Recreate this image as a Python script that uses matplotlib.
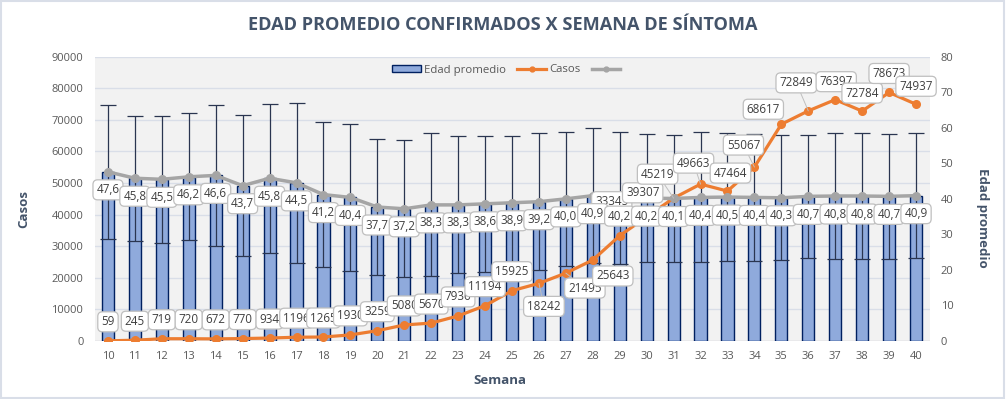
import matplotlib
matplotlib.use("Agg")
import matplotlib.pyplot as plt
from matplotlib.patches import Rectangle, Patch
from matplotlib.lines import Line2D
import numpy as np

plt.rcParams['font.family'] = ['Open Sans', 'DejaVu Sans']

semanas = list(range(10, 41))
edad_promedio = [47.6, 45.8, 45.5, 46.2, 46.6, 43.7, 45.8, 44.5, 41.2, 40.4,
                 37.7, 37.2, 38.3, 38.3, 38.6, 38.9, 39.2, 40.0, 40.9, 40.2,
                 40.2, 40.1, 40.4, 40.5, 40.4, 40.3, 40.7, 40.8, 40.8, 40.7, 40.9]
edad_desv = [18.8, 17.6, 17.9, 17.9, 19.8, 19.8, 20.9, 22.6, 20.4, 20.7,
             19.2, 19.3, 20.1, 19.3, 19.1, 18.7, 19.2, 18.8, 19.0, 18.6,
             18.1, 18.0, 18.3, 18.0, 17.9, 17.6, 17.4, 17.6, 17.7, 17.6, 17.6]
casos = [59, 245, 719, 720, 672, 770, 934, 1196, 1265, 1930,
         3259, 5080, 5670, 7936, 11194, 15925, 18242, 21495, 25643, 33345,
         39307, 45219, 49663, 47464, 55067, 68617, 72849, 76397, 72784, 78673, 74937]

# label offsets (pixels) for the Casos data labels (style only)
casos_lbl_dx = [0]*16 + [5, 19, 20, -8, -4, -16, -7, 3, -11, -18, -12, 1, 0, 0, 0]
casos_lbl_dy = [19]*16 + [-23, -15, -16, 34, 24, 24, 21, 18, 22, 15, 28, 18, 18, 19, 18]
casos_leader = [False]*16 + [True, True, False, False, False, True, True, False, True, False, True, False, False, False, False]

W, H = 1006, 399
fig = plt.figure(figsize=(W/100, H/100), dpi=100)
fig.patch.set_facecolor('white')

left, right = 94.5/W, 929.5/W
bottom, top = 1-341/H, 1-56.7/H
ax = fig.add_axes([left, bottom, right-left, top-bottom])
ax2 = ax.twinx()

ax.set_facecolor('#f2f2f2')
ax.set_ylim(0, 90000)
ax.set_yticks(np.arange(0, 90001, 10000))
ax.set_xlim(semanas[0]-0.5, semanas[-1]+0.5)
ax.set_xticks(semanas)
ax.grid(axis='y', color='#d9dee8', linewidth=1.0)
ax.set_axisbelow(True)
ax2.set_ylim(0, 80)
ax2.set_yticks(np.arange(0, 81, 10))

for a in (ax, ax2):
    for s in a.spines.values():
        s.set_visible(False)
    a.tick_params(length=0, labelsize=8, labelcolor='#595959')
ax.tick_params(axis='y', pad=8)
ax.tick_params(axis='x', pad=7)
ax2.tick_params(axis='y', pad=8)
ax.axhline(0, color='#d9d9d9', linewidth=1, zorder=1)

# bars (age, right axis)
ax2.bar(semanas, edad_promedio, width=0.45, color='#8faadc', edgecolor='#002060',
        linewidth=1.0, zorder=2)
ax2.errorbar(semanas, edad_promedio, yerr=edad_desv, fmt='none', ecolor='#2a3550',
             elinewidth=0.9, capsize=5.5, capthick=0.9, zorder=2.5)

# Casos line (left axis scale, drawn on ax2 layer)
ax2.plot(semanas, casos, transform=ax.transData, color='#ed7d31', linewidth=2.3,
         marker='o', markersize=5.5, zorder=3)
ax2.set_ylim(0, 80)
# age line
ax2.plot(semanas, edad_promedio, color='#a5a5a5', linewidth=2.5, marker='o',
         markersize=5.5, zorder=4)

bbox_style = dict(boxstyle='round,pad=0.3,rounding_size=0.4', fc='white', ec='#bfbfbf', lw=0.9)

for i, (x, c) in enumerate(zip(semanas, casos)):
    ap = dict(arrowstyle='-', color='#bfbfbf', lw=0.7, shrinkA=0, shrinkB=0) if casos_leader[i] else None
    ax2.annotate(f"{c}", xy=(x, c), xycoords=ax.transData,
                 xytext=(casos_lbl_dx[i], casos_lbl_dy[i]), textcoords='offset pixels',
                 ha='center', va='center', fontsize=8.4, color='#404040',
                 bbox=bbox_style, arrowprops=ap, zorder=6)

for x, e in zip(semanas, edad_promedio):
    ax2.annotate(f"{e:.1f}".replace('.', ','), xy=(x, e), xytext=(0, -18),
                 textcoords='offset pixels', ha='center', va='center',
                 fontsize=8.4, color='#404040', bbox=bbox_style, zorder=7)

# legend
handles = [Patch(facecolor='#8faadc', edgecolor='#002060', linewidth=1.0),
           Line2D([], [], color='#ed7d31', linewidth=2.3, marker='o', markersize=3.5),
           Line2D([], [], color='#a5a5a5', linewidth=2.5, marker='o', markersize=3.5)]
leg = fig.legend(handles=handles, labels=['Edad promedio', 'Casos', ''], loc='center',
                 bbox_to_anchor=(508/W, 1-70/H), ncol=3, frameon=False, fontsize=8.2,
                 handlelength=2.5, handleheight=0.6, columnspacing=1.0, handletextpad=0.3)
for t in leg.get_texts():
    t.set_color('#595959')

title_color = '#44546a'
fig.text(502.5/W, 1-25/H, 'EDAD PROMEDIO CONFIRMADOS X SEMANA DE SÍNTOMA', ha='center',
         va='center', fontsize=13.1, fontweight='bold', color=title_color)
fig.text(500/W, 1-380/H, 'Semana', ha='center', va='center', fontsize=9.5,
         fontweight='bold', color=title_color)
fig.text(24/W, 1-209/H, 'Casos', ha='center', va='center', rotation=90, fontsize=9.5,
         fontweight='bold', color=title_color)
fig.text(983/W, 1-218/H, 'Edad promedio', ha='center', va='center', rotation=-90,
         fontsize=9.5, fontweight='bold', color=title_color)

fig.patches.append(Rectangle((0.001, 0.002), 0.997, 0.995, transform=fig.transFigure,
                             fill=False, edgecolor='#d9dee8', linewidth=1.5))

fig.savefig('out.png', dpi=100)
